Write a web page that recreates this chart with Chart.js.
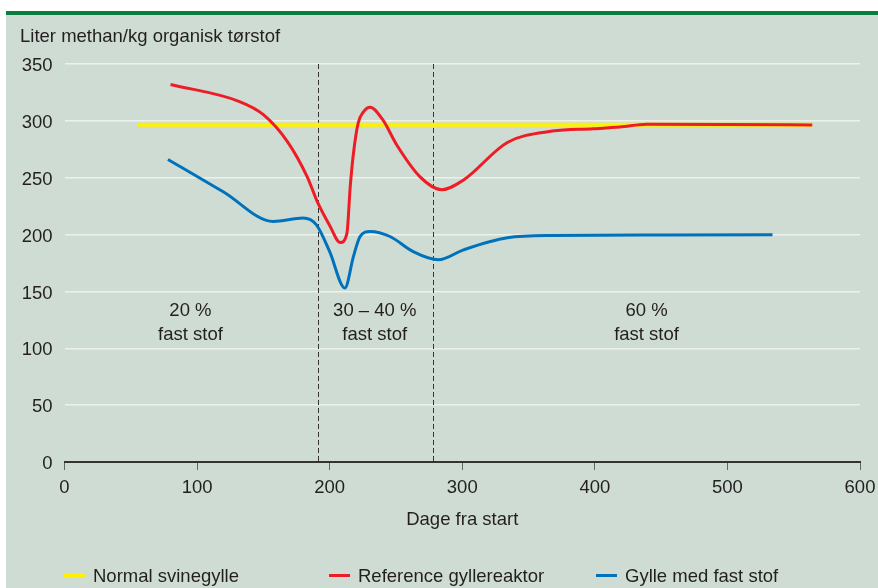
<!DOCTYPE html>
<html><head><meta charset="utf-8">
<script src="https://cdn.jsdelivr.net/npm/chart.js@4/dist/chart.umd.min.js"></script>
<style>html,body{margin:0;padding:0;background:#fff}</style>
</head><body>
<canvas id="c" width="878" height="588"></canvas>
<script>
// ---- data ----
const yTitle = 'Liter methan/kg organisk tørstof';
const xTitle = 'Dage fra start';
const yTickValues = [0, 50, 100, 150, 200, 250, 300, 350];
const xTickValues = [0, 100, 200, 300, 400, 500, 600];
const seriesNames = ['Normal svinegylle', 'Reference gyllereaktor', 'Gylle med fast stof'];

const normalDays   = [55, 564];
const normalValues = [296.6, 296.6];

const refDays   = [80, 132, 150, 168, 183, 191, 200, 208, 213, 215.5, 218, 221.5, 225.5, 230.5, 240, 250.5, 268, 284.5, 301, 334, 368, 399, 419, 439, 500, 564];
const refValues = [332, 317, 305.5, 282, 251, 228, 208, 193, 201, 242, 272, 298, 308, 312, 301, 279, 251, 239.5, 248, 281, 291, 293, 294.5, 297, 296.8, 296.4];

const solidDays   = [78, 120, 157.5, 180, 190, 200, 211.5, 218, 223, 230.5, 245.5, 263, 282, 301, 334, 368, 450, 534];
const solidValues = [266, 237.5, 211.5, 214.5, 208.5, 185, 153, 181, 198.5, 202.7, 198.3, 185, 177.8, 186.6, 197.2, 199.2, 199.6, 199.8];

const dividerDays = [191, 278];
const phaseTitles = ['20 %', '30 – 40 %', '60 %'];
const phaseSubtitles = ['fast stof', 'fast stof', 'fast stof'];
const phaseCenterDays = [95, 234, 439];

// ---- style ----
const FONT = "'Liberation Sans', Arial, Helvetica, sans-serif";
const FS = 18.5;
const TEXT = '#231f20';
const BG = '#cfdcd3';
const GREEN = '#0b7d3e';
const colors = ['#fff200', '#ee1c25', '#0072bc'];
const widths = [4, 3, 3];
const phaseLineValues = [128, 107.4];   // baseline positions of the two text lines (in y units)
const legendX = [64, 329, 596];

const toXY = (xs, ys) => xs.map((x, i) => ({x: x, y: ys[i]}));

const bgPlugin = {
  id: 'bg',
  beforeDraw(chart) {
    const ctx = chart.ctx;
    ctx.save();
    ctx.fillStyle = '#ffffff';
    ctx.fillRect(0, 0, chart.width, chart.height);
    ctx.fillStyle = GREEN;
    ctx.fillRect(6, 11, chart.width - 6, 4);
    ctx.fillStyle = BG;
    ctx.fillRect(6, 15, chart.width - 6, chart.height - 15);
    ctx.fillStyle = TEXT;
    ctx.font = FS + 'px ' + FONT;
    ctx.textAlign = 'left';
    ctx.textBaseline = 'alphabetic';
    ctx.fillText(yTitle, 20, 41.7);
    ctx.restore();
  },
  beforeDatasetsDraw(chart) {
    const ctx = chart.ctx, xs = chart.scales.x, ys = chart.scales.y;
    const ca = chart.chartArea;
    ctx.save();
    ctx.strokeStyle = '#333';
    ctx.lineWidth = 1;
    ctx.setLineDash([5, 3]);
    dividerDays.forEach(d => {
      const px = Math.round(xs.getPixelForValue(d)) + 0.5;
      ctx.beginPath();
      ctx.moveTo(px, ca.top);
      ctx.lineTo(px, ca.bottom);
      ctx.stroke();
    });
    ctx.setLineDash([]);
    ctx.fillStyle = TEXT;
    ctx.font = FS + 'px ' + FONT;
    ctx.textAlign = 'center';
    ctx.textBaseline = 'alphabetic';
    phaseCenterDays.forEach((d, i) => {
      const px = xs.getPixelForValue(d);
      ctx.fillText(phaseTitles[i], px, ys.getPixelForValue(phaseLineValues[0]));
      ctx.fillText(phaseSubtitles[i], px, ys.getPixelForValue(phaseLineValues[1]));
    });
    ctx.restore();
  },
  afterDraw(chart) {
    const ctx = chart.ctx;
    ctx.save();
    ctx.font = FS + 'px ' + FONT;
    ctx.textAlign = 'left';
    ctx.textBaseline = 'alphabetic';
    chart.data.datasets.forEach((ds, i) => {
      const x = legendX[i];
      ctx.strokeStyle = ds.borderColor;
      ctx.lineWidth = 3;
      ctx.beginPath();
      ctx.moveTo(x, 575.5);
      ctx.lineTo(x + 21, 575.5);
      ctx.stroke();
      ctx.fillStyle = TEXT;
      ctx.fillText(ds.label, x + 29, 582.3);
    });
    ctx.restore();
  }
};

new Chart(document.getElementById('c'), {
  type: 'line',
  data: {
    datasets: [
      {label: seriesNames[0], data: toXY(normalDays, normalValues), borderColor: colors[0], borderWidth: widths[0], order: 3, tension: 0},
      {label: seriesNames[1], data: toXY(refDays, refValues), borderColor: colors[1], borderWidth: widths[1], order: 2, cubicInterpolationMode: 'monotone'},
      {label: seriesNames[2], data: toXY(solidDays, solidValues), borderColor: colors[2], borderWidth: widths[2], order: 1, cubicInterpolationMode: 'monotone'}
    ]
  },
  options: {
    responsive: false,
    animation: false,
    events: [],
    elements: {point: {radius: 0}, line: {borderCapStyle: 'butt', fill: false}},
    layout: {padding: {left: 0, right: 18, top: 64, bottom: 57}},
    plugins: {legend: {display: false}, tooltip: {enabled: false}, title: {display: false}},
    scales: {
      x: {
        type: 'linear', min: 0, max: 600,
        afterBuildTicks: s => { s.ticks = xTickValues.map(v => ({value: v})); },
        afterFit: s => { s.height = 69; s.paddingLeft = 0; s.paddingRight = 0; },
        grid: {drawOnChartArea: false, drawTicks: true, tickLength: 8, color: '#666', lineWidth: 1},
        border: {display: true, color: '#333', width: 2},
        ticks: {color: TEXT, font: {family: FONT, size: FS}, padding: 7, maxRotation: 0},
        title: {display: true, text: xTitle, color: TEXT, font: {family: FONT, size: FS}, padding: 0}
      },
      y: {
        type: 'linear', min: 0, max: 350,
        afterBuildTicks: s => { s.ticks = yTickValues.map(v => ({value: v})); },
        afterFit: s => { s.width = 64.5; s.paddingTop = 0; s.paddingBottom = 0; },
        grid: {drawTicks: false, color: '#edf1ee', lineWidth: 1.5},
        border: {display: false},
        ticks: {color: TEXT, font: {family: FONT, size: FS}, padding: 12, labelOffset: 2}
      }
    }
  },
  plugins: [bgPlugin]
});
</script>
</body></html>
